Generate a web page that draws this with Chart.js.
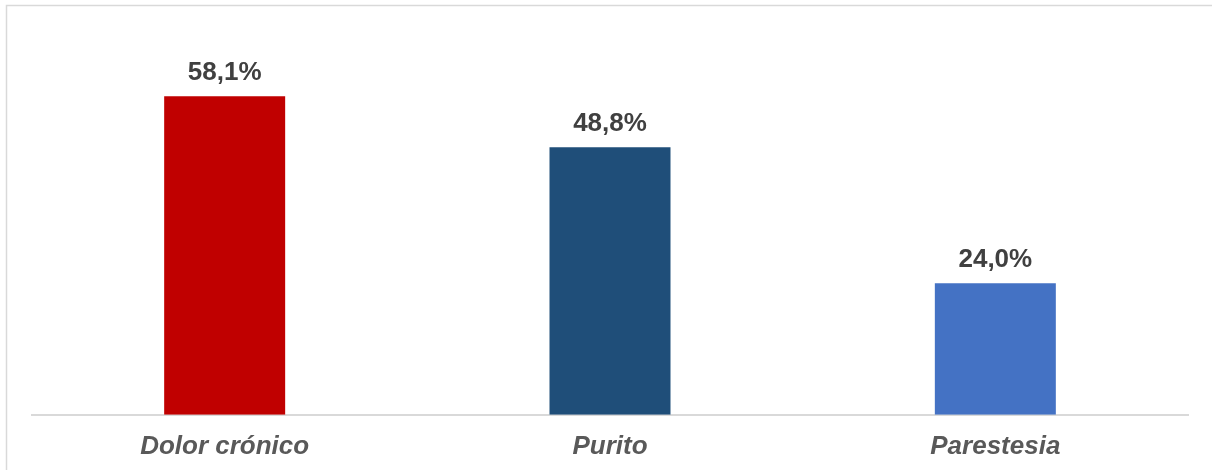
<!DOCTYPE html>
<html>
<head>
<meta charset="utf-8">
<script src="https://cdn.jsdelivr.net/npm/chart.js@4/dist/chart.umd.min.js"></script>
<style>
  html, body { margin: 0; padding: 0; background: #ffffff; }
  #wrap { width: 1212px; height: 470px; position: relative; }
</style>
</head>
<body>
<div id="wrap"><canvas id="c" width="1212" height="470"></canvas></div>
<script>
const categories = ["Dolor crónico", "Purito", "Parestesia"];
const values = [58.1, 48.8, 24.0];
const barColors = ["#C00000", "#1F4E79", "#4472C4"];
const valueLabels = ["58,1%", "48,8%", "24,0%"];

const frame = {
  id: 'frame',
  beforeDraw(chart) {
    const ctx = chart.ctx;
    ctx.save();
    ctx.strokeStyle = '#d9d9d9';
    ctx.lineWidth = 1.5;
    ctx.beginPath();
    ctx.moveTo(6.5, 470);
    ctx.lineTo(6.5, 5.5);
    ctx.lineTo(1212, 5.5);
    ctx.stroke();
    ctx.restore();
  }
};

const dataLabels = {
  id: 'dataLabels',
  afterDatasetsDraw(chart) {
    const ctx = chart.ctx;
    const meta = chart.getDatasetMeta(0);
    ctx.save();
    ctx.font = 'bold 26px "Liberation Sans", Arial, sans-serif';
    ctx.fillStyle = '#404040';
    ctx.textAlign = 'center';
    ctx.textBaseline = 'alphabetic';
    meta.data.forEach((bar, i) => {
      ctx.fillText(valueLabels[i], bar.x, bar.y - 16);
    });
    ctx.restore();
  }
};

new Chart(document.getElementById('c'), {
  type: 'bar',
  data: {
    labels: categories,
    datasets: [{
      data: values,
      backgroundColor: barColors,
      borderWidth: 0,
      barPercentage: 0.314,
      categoryPercentage: 1.0
    }]
  },
  options: {
    responsive: false,
    animation: false,
    devicePixelRatio: 1,
    layout: { padding: { left: 32, right: 24, top: 31, bottom: -8 } },
    plugins: { legend: { display: false }, tooltip: { enabled: false } },
    scales: {
      x: {
        grid: { display: false, drawTicks: false },
        border: { display: true, color: '#d9d9d9', width: 2 },
        ticks: {
          padding: 16,
          color: '#595959',
          font: { family: '"Liberation Sans", Arial, sans-serif', size: 26, weight: 'bold', style: 'italic', lineHeight: 1.2 }
        }
      },
      y: {
        display: false,
        min: 0,
        max: 70
      }
    }
  },
  plugins: [frame, dataLabels]
});
</script>
</body>
</html>
